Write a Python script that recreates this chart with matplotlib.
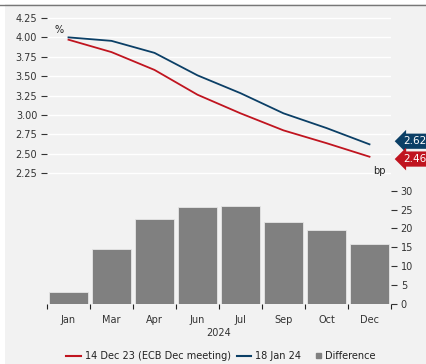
import matplotlib
matplotlib.use("Agg")
import matplotlib.pyplot as plt
from matplotlib.lines import Line2D
from matplotlib.patches import Rectangle
from matplotlib.legend_handler import HandlerPatch

months = ['Jan', 'Mar', 'Apr', 'Jun', 'Jul', 'Sep', 'Oct', 'Dec']
dec_meeting = [3.97, 3.81, 3.58, 3.26, 3.02, 2.80, 2.635, 2.46]
jan_18 = [4.00, 3.955, 3.80, 3.51, 3.28, 3.02, 2.83, 2.62]
difference = [3.2, 14.5, 22.6, 25.7, 26.0, 21.6, 19.6, 16.0]
top_ticks = [2.25, 2.50, 2.75, 3.00, 3.25, 3.50, 3.75, 4.00, 4.25]
bar_ticks = [0, 5, 10, 15, 20, 25, 30]

RED = '#c0141f'
BLUE = '#0b3f66'
GREY = '#808080'
BG = '#f2f2f2'
TXT = '#333333'

plt.rcParams['font.family'] = 'DejaVu Sans'
plt.rcParams['font.size'] = 7

fig = plt.figure(figsize=(4.27, 3.64), dpi=100)
fig.patch.set_facecolor('white')
fig.patches.append(Rectangle((5 / 427, 0), 1, 1 - 4 / 364, transform=fig.transFigure,
                             facecolor=BG, edgecolor='none', zorder=-10))
fig.lines.append(Line2D([0, 1], [1 - 4.5 / 364] * 2, transform=fig.transFigure,
                        color='#777777', lw=1.0))

x = range(len(months))

# upper panel: rate paths
ax = fig.add_axes([47 / 427, 183.25 / 364, 344 / 427, 170.5 / 364])
ax.set_facecolor('none')
ax.plot(x, jan_18, color=BLUE, lw=1.3, zorder=3)
ax.plot(x, dec_meeting, color=RED, lw=1.3, zorder=3)
ax.set_xlim(-0.5, 7.5)
ax.set_ylim(2.15, 4.35)
ax.set_yticks(top_ticks)
ax.set_yticklabels([f'{t:.2f}' for t in top_ticks])
ax.set_xticks([])
ax.grid(axis='y', color='white', lw=1.0)
ax.set_axisbelow(True)
for s in ax.spines.values():
    s.set_visible(False)
ax.tick_params(axis='y', length=4, width=0.8, pad=3, colors=TXT, labelcolor=TXT)
ax.text(-0.22, 4.10, '%', ha='center', va='center', color='#222222', fontsize=7)
ax.text(7.24, 2.28, 'bp', ha='center', va='center', color='#222222', fontsize=7)
ax.text(7.78, 2.66, f'{jan_18[-1]:.2f}', ha='left', va='center', color='white',
        fontsize=7.5, clip_on=False,
        bbox=dict(boxstyle='larrow,pad=0.25', fc=BLUE, ec='none'))
ax.text(7.78, 2.43, f'{dec_meeting[-1]:.2f}', ha='left', va='center', color='white',
        fontsize=7.5, clip_on=False,
        bbox=dict(boxstyle='larrow,pad=0.25', fc=RED, ec='none'))

# lower panel: difference in bp
bx = fig.add_axes([47 / 427, 60 / 364, 344 / 427, 119 / 364])
bx.set_facecolor('none')
bx.bar(x, difference, width=0.9, color=GREY, edgecolor='#e6e6e6', lw=0.6)
bx.set_xlim(-0.5, 7.5)
bx.set_ylim(0, 31.5)
bx.set_yticks(bar_ticks)
bx.yaxis.tick_right()
bx.set_xticks(list(x))
bx.set_xticklabels(months)
bx.set_xticks([i - 0.5 for i in range(len(months) + 1)], minor=True)
bx.tick_params(axis='x', which='major', length=0, pad=8, labelcolor=TXT)
bx.tick_params(axis='x', which='minor', length=3.5, width=0.8, colors='#222222')
bx.tick_params(axis='y', length=4, width=0.8, pad=3, colors=TXT, labelcolor=TXT)
for s in bx.spines.values():
    s.set_visible(False)
bx.set_xlabel('2024', color=TXT, labelpad=2)


def small_square(legend, orig_handle, xdescent, ydescent, width, height, fontsize):
    s = height * 0.85
    return Rectangle((-xdescent + width - s, -ydescent + (height - s) / 2), s, s)


handles = [Line2D([], [], color=RED, lw=1.5),
           Line2D([], [], color=BLUE, lw=1.5),
           Rectangle((0, 0), 1, 1, color=GREY)]
labels = ['14 Dec 23 (ECB Dec meeting)', '18 Jan 24', 'Difference']
fig.legend(handles, labels, loc='center', bbox_to_anchor=(221 / 427, 1 - 356 / 364),
           ncol=3, frameon=False, handlelength=1.5, handletextpad=0.4,
           columnspacing=0.6, fontsize=7, labelcolor='#222222',
           handler_map={Rectangle: HandlerPatch(patch_func=small_square)})

fig.savefig('out.png', dpi=100, facecolor=fig.get_facecolor())
